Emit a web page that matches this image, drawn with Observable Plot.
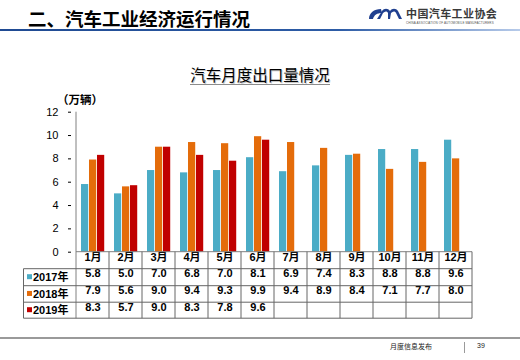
<!DOCTYPE html>
<html>
<head>
<meta charset="utf-8">
<script src="https://cdn.jsdelivr.net/npm/d3@7"></script>
<script src="https://cdn.jsdelivr.net/npm/@observablehq/plot@0.6"></script>
<style>
  html, body { margin: 0; padding: 0; background: #fff; }
  #page { position: relative; width: 520px; height: 360px; overflow: hidden;
          font-family: "Liberation Sans", "Noto Sans CJK SC", sans-serif; }
  #page > * { position: absolute; }
  #chart { left: 0; top: 0; }
  .hdr { left: 28px; top: 6px; font-size: 18.5px; font-weight: bold; color: #000;
         font-family: "Noto Sans CJK SC", sans-serif; line-height: 24px; white-space: nowrap; }
  .hline { left: 0; top: 29px; width: 520px; height: 2px;
           background: linear-gradient(to right, #1f4a92, #2d5ca6 65%, #b7cbea); }
  .title { left: 0; width: 520px; top: 64px; text-align: center; font-size: 15.5px; color: #000;
           font-family: "Noto Sans CJK SC", sans-serif; line-height: 20px; }
  .title span { display: inline-block; border-bottom: 1.5px solid #8c8c8c; padding-bottom: 0px;
                text-shadow: 1px 1px 0 #c8c8c8; }
  .unit { left: 57px; top: 92px; font-size: 11.5px; font-weight: bold; line-height: 14px;
          font-family: "Noto Sans CJK SC", sans-serif; white-space: nowrap; }
  .logo-cn { left: 406px; top: 6px; font-size: 11px; font-weight: bold; color: #3a3a3a; letter-spacing: 0.4px;
             font-family: "Noto Sans CJK SC", sans-serif; line-height: 14px; white-space: nowrap; }
  .logo-en { left: 406px; top: 21px; font-size: 3px; color: #555; line-height: 4px; white-space: nowrap; letter-spacing: 0.1px; }
  .fline { left: 0; top: 337px; width: 520px; height: 1.5px; background: #9a9a9a; }
  .fsep { left: 464px; top: 342px; width: 1px; height: 11px; background: #9a9a9a; }
  .ftext { left: 390px; top: 341px; font-size: 7px; color: #222; line-height: 10px;
           font-family: "Noto Sans CJK SC", sans-serif; white-space: nowrap; }
  .fnum { left: 477px; top: 341px; font-size: 7px; color: #222; line-height: 10px; }
</style>
</head>
<body>
<div id="page">
  <div id="chart"></div>
  <div class="hdr">二、汽车工业经济运行情况</div>
  <div class="hline"></div>
  <svg style="left:368px;top:8px" width="36" height="12" viewBox="0 0 36 12">
    <path d="M13 1 C6 1 1 5 1 11 L5 11 C6 7 9 5 14 5 Z" fill="#1f3f8f"/>
    <path d="M12 11 L15 5 C17 3 19 3 20 5 L20 11 L22 11 L23 5 C25 3 27 3 28 5 L31 11 L34 11 L30 3 C28 0 24 0 22 3 C20 0 16 0 14 3 L9 11 Z" fill="#1f3f8f"/>
  </svg>
  <div class="logo-cn">中国汽车工业协会</div>
  <div class="logo-en">CHINA ASSOCIATION OF AUTOMOBILE MANUFACTURERS</div>
  <div class="title"><span>汽车月度出口量情况</span></div>
  <div class="unit">（万辆）</div>
  <div class="fline"></div>
  <div class="ftext">月度信息发布</div>
  <div class="fsep"></div>
  <div class="fnum">39</div>
</div>
<script>
const months = ["1月","2月","3月","4月","5月","6月","7月","8月","9月","10月","11月","12月"];
const years = ["2017年","2018年","2019年"];
const v2017 = [5.8,5.0,7.0,6.8,7.0,8.1,6.9,7.4,8.3,8.8,8.8,9.6];
const v2018 = [7.9,5.6,9.0,9.4,9.3,9.9,9.4,8.9,8.4,7.1,7.7,8.0];
const v2019 = [8.3,5.7,9.0,8.3,7.8,9.6];
const yTicks = [0,2,4,6,8,10,12];
const colors = ["#4bacc6","#e46c0a","#c00000"];
const edgeColors = ["#a8dbe8","#f5b88a","#e9848c"];

const series = [v2017, v2018, v2019].map(vals => vals.map((v, i) => ({month: months[i], value: v})));

const W = 520, H = 360;
const mL = 71, mR = 43, mT = 111.7, mB = 108.3;
const bw = (W - mL - mR) / months.length;
const slots = [[5, 13], [13, 21], [21, 29]];

const marks = [];
series.forEach((data, k) => {
  const [a, b] = slots[k];
  marks.push(Plot.barY(data, {x: "month", y: "value", fill: colors[k], insetLeft: a, insetRight: bw - b}));
  marks.push(Plot.barY(data, {x: "month", y: "value", fill: edgeColors[k], insetLeft: b - 1, insetRight: bw - b}));
});
// table: header row & values
const rowDy = [25, 42, 58.5];
marks.push(Plot.text(months, {x: d => d, text: d => d, frameAnchor: "bottom", dy: 8.5,
  fontWeight: "bold", fontSize: 11, fill: "#000"}));
series.forEach((data, k) => {
  marks.push(Plot.text(data, {x: "month", text: d => d.value.toFixed(1), frameAnchor: "bottom", dy: rowDy[k],
    fontWeight: "bold", fontSize: 11, fill: "#000"}));
});

const chart = Plot.plot({
  width: W, height: H,
  marginLeft: mL, marginRight: mR, marginTop: mT, marginBottom: mB,
  style: {fontFamily: "'Liberation Sans', 'Noto Sans CJK SC', sans-serif", fontSize: "11px", color: "#000", background: "transparent", overflow: "visible"},
  x: {type: "band", domain: months, padding: 0, axis: null},
  y: {domain: [0, 12], ticks: yTicks, tickSize: 3, tickPadding: 10, label: null, tickFormat: d => d},
  marks
});
document.getElementById("chart").appendChild(chart);

// axis line & table grid built from the Plot scales
const sx = chart.scale("x"), sy = chart.scale("y");
const svg = d3.select(chart);
const x0 = sx.apply(months[0]);
const x1 = sx.apply(months[months.length - 1]) + sx.bandwidth;
const yBase = sy.apply(0), yTop = sy.apply(12);
const rowY = [yBase, yBase + 17, yBase + 34, yBase + 50.5, yBase + 66.5];
const g = svg.append("g").attr("stroke", "#666").attr("stroke-width", 1).attr("fill", "none");
g.append("line").attr("x1", x0).attr("x2", x0).attr("y1", yTop).attr("y2", rowY[4]).attr("stroke", "#808080");
g.append("line").attr("x1", x0).attr("x2", x1).attr("y1", yBase).attr("y2", yBase).attr("stroke", "#808080");
months.forEach(m => {
  const xe = sx.apply(m) + sx.bandwidth;
  g.append("line").attr("x1", xe).attr("x2", xe).attr("y1", yBase).attr("y2", rowY[4]);
});
const labelLeft = 23.5;
[1,2,3,4].forEach(r => {
  g.append("line").attr("x1", labelLeft).attr("x2", x1).attr("y1", rowY[r]).attr("y2", rowY[r]);
});
g.append("line").attr("x1", labelLeft).attr("x2", labelLeft).attr("y1", rowY[1]).attr("y2", rowY[4]);
// row labels with swatches
const lab = svg.append("g").attr("text-anchor", "start");
years.forEach((y, k) => {
  const cy = (rowY[k+1] + rowY[k+2]) / 2;
  lab.append("rect").attr("x", 27).attr("y", cy - 3).attr("width", 5).attr("height", 5).attr("fill", colors[k]);
  lab.append("text").attr("x", 33).attr("y", cy).attr("dy", "0.35em").attr("font-size", 11)
    .attr("font-weight", "bold").attr("fill", "#000").attr("text-anchor", "start").text(y);
});
</script>
</body>
</html>
